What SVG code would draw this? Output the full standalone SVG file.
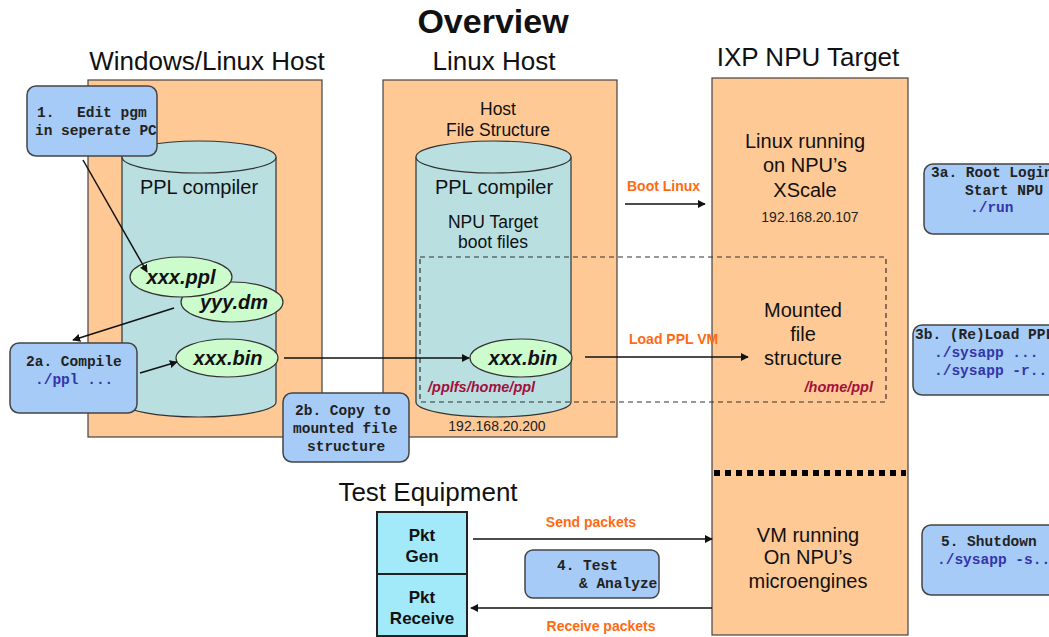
<svg xmlns="http://www.w3.org/2000/svg" width="1049" height="637" viewBox="0 0 1049 637">
  <style>
    .sans { font-family: "Liberation Sans", Arial, sans-serif; }
    .mono { font-family: "Liberation Mono", "Courier New", monospace; font-weight: bold; font-size: 14.5px; fill: #222; }
    .cmd { fill: #3434aa; }
    .panel { fill: #fec995; stroke: #444; stroke-width: 1.2; }
    .cyl { fill: #b9dfe1; stroke: #333; stroke-width: 1.2; }
    .file { fill: #ccfccb; stroke: #333; stroke-width: 1.2; }
    .note { fill: #a6cbf6; stroke: #444; stroke-width: 1.5; }
    .head { font-size: 26px; fill: #111; }
    .lbl { fill: #111; }
    .act { fill: #ff6a13; font-weight: bold; font-size: 14px; }
    .fname { font-weight: bold; font-style: italic; font-size: 20px; fill: #111; }
    .path { font-weight: bold; font-style: italic; font-size: 14.5px; fill: #a3103c; }
    .ip { font-size: 14px; fill: #222; }
    .conn { stroke: #111; stroke-width: 1.5; fill: none; }
  </style>
  <defs>
    <marker id="arrow" viewBox="0 0 10 10" refX="9" refY="5" markerWidth="8" markerHeight="8" markerUnits="userSpaceOnUse" orient="auto">
      <path d="M0,0 L10,5 L0,10 z" fill="#111"/>
    </marker>
  </defs>

  <!-- titles -->
  <text class="sans" x="493" y="33" text-anchor="middle" font-size="34" font-weight="bold" fill="#111">Overview</text>
  <text class="sans head" x="207" y="70" text-anchor="middle">Windows/Linux Host</text>
  <text class="sans head" x="494" y="70" text-anchor="middle">Linux Host</text>
  <text class="sans head" x="808" y="66" text-anchor="middle">IXP NPU Target</text>
  <text class="sans head" x="428" y="501" text-anchor="middle">Test Equipment</text>

  <!-- Windows/Linux host -->
  <g id="win-host">
    <rect class="panel" x="88" y="80" width="234" height="357"/>
    <path class="cyl" d="M122,157 L122,402 A77,15 0 0 0 276,402 L276,157"/>
    <ellipse class="cyl" cx="199" cy="157" rx="77" ry="16"/>
    <text class="sans lbl" x="199" y="194" text-anchor="middle" font-size="20">PPL compiler</text>
  </g>

  <!-- Linux host -->
  <g id="linux-host">
    <rect class="panel" x="383" y="80" width="234" height="357"/>
    <text class="sans lbl" x="498" y="115" text-anchor="middle" font-size="17.5">Host</text>
    <text class="sans lbl" x="498" y="136" text-anchor="middle" font-size="17.5">File Structure</text>
    <path class="cyl" d="M416,157 L416,402 A77.5,15 0 0 0 571,402 L571,157"/>
    <ellipse class="cyl" cx="493.5" cy="157" rx="77.5" ry="16"/>
    <text class="sans lbl" x="494" y="194" text-anchor="middle" font-size="20">PPL compiler</text>
    <text class="sans lbl" x="493" y="228" text-anchor="middle" font-size="17.5">NPU Target</text>
    <text class="sans lbl" x="493" y="248" text-anchor="middle" font-size="17.5">boot files</text>
    <text class="sans ip" x="497" y="431" text-anchor="middle">192.168.20.200</text>
  </g>

  <!-- IXP NPU target -->
  <g id="npu-target">
    <rect class="panel" x="712" y="78" width="196" height="557"/>
    <text class="sans lbl" x="805" y="148" text-anchor="middle" font-size="20">Linux running</text>
    <text class="sans lbl" x="805" y="172" text-anchor="middle" font-size="20">on NPU’s</text>
    <text class="sans lbl" x="805" y="197" text-anchor="middle" font-size="20">XScale</text>
    <text class="sans ip" x="810" y="222" text-anchor="middle">192.168.20.107</text>
    <text class="sans lbl" x="803" y="317" text-anchor="middle" font-size="20">Mounted</text>
    <text class="sans lbl" x="803" y="341" text-anchor="middle" font-size="20">file</text>
    <text class="sans lbl" x="803" y="365" text-anchor="middle" font-size="20">structure</text>
    <text class="sans path" x="873" y="392" text-anchor="end">/home/ppl</text>
    <line x1="714" y1="473" x2="906" y2="473" stroke="#000" stroke-width="6" stroke-dasharray="6,5"/>
    <text class="sans lbl" x="808" y="542" text-anchor="middle" font-size="20">VM running</text>
    <text class="sans lbl" x="808" y="564" text-anchor="middle" font-size="20">On NPU’s</text>
    <text class="sans lbl" x="808" y="588" text-anchor="middle" font-size="20">microengines</text>
  </g>

  <!-- mounted file structure region -->
  <g id="mount-region">
    <rect x="420" y="257" width="466" height="145" fill="none" stroke="#333" stroke-width="1.2" stroke-dasharray="5,4"/>
    <text class="sans path" x="428" y="392">/pplfs/home/ppl</text>
  </g>

  <!-- files -->
  <g id="file-yyy-dm">
    <ellipse class="file" cx="232" cy="302" rx="51" ry="20"/>
    <text class="sans fname" x="234" y="309" text-anchor="middle">yyy.dm</text>
  </g>
  <g id="file-xxx-ppl">
    <ellipse class="file" cx="181" cy="277" rx="51" ry="20"/>
    <text class="sans fname" x="181" y="284" text-anchor="middle">xxx.ppl</text>
  </g>
  <g id="file-xxx-bin-win">
    <ellipse class="file" cx="227" cy="358" rx="51" ry="19"/>
    <text class="sans fname" x="228" y="365" text-anchor="middle">xxx.bin</text>
  </g>
  <g id="file-xxx-bin-linux">
    <ellipse class="file" cx="521" cy="358" rx="51" ry="19"/>
    <text class="sans fname" x="523" y="365" text-anchor="middle">xxx.bin</text>
  </g>

  <!-- test equipment -->
  <g id="pkt-gen">
    <rect x="377" y="512" width="90" height="62" fill="#a2e9f9" stroke="#222" stroke-width="2"/>
    <text class="sans lbl" x="422" y="541" text-anchor="middle" font-size="17" font-weight="bold">Pkt</text>
    <text class="sans lbl" x="422" y="562" text-anchor="middle" font-size="17" font-weight="bold">Gen</text>
  </g>
  <g id="pkt-receive">
    <rect x="377" y="574" width="90" height="62" fill="#a2e9f9" stroke="#222" stroke-width="2"/>
    <text class="sans lbl" x="422" y="603" text-anchor="middle" font-size="17" font-weight="bold">Pkt</text>
    <text class="sans lbl" x="422" y="624" text-anchor="middle" font-size="17" font-weight="bold">Receive</text>
  </g>

  <!-- step notes -->
  <g id="step-1">
    <rect class="note" x="27" y="86" width="130" height="70" rx="9"/>
    <text class="mono" x="37" y="117">1.<tspan x="77">Edit pgm</tspan></text>
    <text class="mono" x="35" y="135">in seperate PC</text>
  </g>
  <g id="step-2a">
    <rect class="note" x="10" y="343" width="127" height="70" rx="9"/>
    <text class="mono" x="26" y="366">2a. Compile</text>
    <text class="mono cmd" x="35" y="384">./ppl ...</text>
  </g>
  <g id="step-2b">
    <rect class="note" x="283" y="393" width="126" height="69" rx="9"/>
    <text class="mono" x="295" y="415">2b. Copy to</text>
    <text class="mono" x="293" y="433">mounted file</text>
    <text class="mono" x="307" y="451">structure</text>
  </g>
  <g id="step-3a">
    <rect class="note" x="924" y="164" width="140" height="70" rx="9"/>
    <text class="mono" x="931" y="177">3a. Root Login</text>
    <text class="mono" x="965" y="195">Start NPU</text>
    <text class="mono cmd" x="970" y="212">./run</text>
  </g>
  <g id="step-3b">
    <rect class="note" x="913" y="325" width="150" height="70" rx="9"/>
    <text class="mono" x="915" y="339">3b. (Re)Load PPL</text>
    <text class="mono cmd" x="934" y="357">./sysapp ...</text>
    <text class="mono cmd" x="934" y="375">./sysapp -r..</text>
  </g>
  <g id="step-4">
    <rect class="note" x="525" y="550" width="134" height="48" rx="8"/>
    <text class="mono" x="557" y="570">4. Test</text>
    <text class="mono" x="579" y="588">&amp; Analyze</text>
  </g>
  <g id="step-5">
    <rect class="note" x="922" y="525" width="140" height="70" rx="9"/>
    <text class="mono" x="941" y="546">5. Shutdown</text>
    <text class="mono cmd" x="937" y="564">./sysapp -s..</text>
  </g>

  <!-- connectors -->
  <g id="connectors">
    <line class="conn" x1="83" y1="160" x2="147" y2="272" marker-end="url(#arrow)"/>
    <line class="conn" x1="174" y1="308" x2="73" y2="340" marker-end="url(#arrow)"/>
    <line class="conn" x1="140" y1="373" x2="177" y2="362" marker-end="url(#arrow)"/>
    <line class="conn" x1="284" y1="358" x2="469" y2="358" marker-end="url(#arrow)"/>
    <line class="conn" x1="625" y1="204" x2="705" y2="204" marker-end="url(#arrow)"/>
    <line class="conn" x1="585" y1="357" x2="748" y2="357" marker-end="url(#arrow)"/>
    <line class="conn" x1="473" y1="539" x2="712" y2="539" marker-end="url(#arrow)"/>
    <line class="conn" x1="712" y1="608" x2="471" y2="608" marker-end="url(#arrow)"/>
    <text class="sans act" x="627" y="191">Boot Linux</text>
    <text class="sans act" x="629" y="344" font-size="14.5">Load PPL VM</text>
    <text class="sans act" x="591" y="527" text-anchor="middle">Send packets</text>
    <text class="sans act" x="601" y="631" text-anchor="middle">Receive packets</text>
  </g>
</svg>
